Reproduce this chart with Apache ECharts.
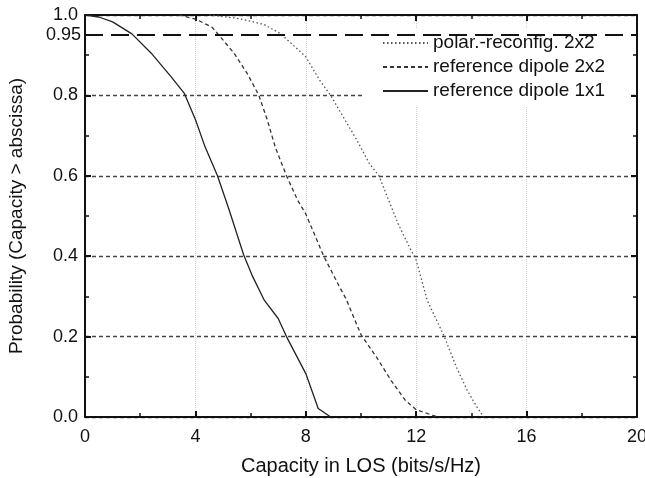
<!DOCTYPE html>
<html>
<head>
<meta charset="utf-8">
<script src="https://cdn.jsdelivr.net/npm/echarts@6/dist/echarts.min.js"></script>
<style>html,body{margin:0;padding:0;background:#fff}#c{width:645px;height:478px}</style>
</head>
<body>
<div id="c"></div>
<script>
var seriesNames = ['polar.-reconfig. 2x2', 'reference dipole 2x2', 'reference dipole 1x1'];

var polarX = [4.5, 5.5, 6.1, 6.5, 7.1, 8.0, 8.5, 8.9, 9.35, 9.85, 10.3, 10.65, 11.05, 11.35, 11.7, 12.0, 12.2, 12.4, 13.0, 13.45, 13.85, 14.2, 14.45];
var polarP = [1.0, 0.992, 0.983, 0.976, 0.953, 0.896, 0.838, 0.80, 0.747, 0.689, 0.631, 0.60, 0.531, 0.48, 0.43, 0.39, 0.34, 0.29, 0.203, 0.125, 0.066, 0.025, 0.0];

var dip22X = [3.4, 4.0, 4.6, 4.85, 5.4, 5.9, 6.3, 6.6, 6.9, 7.3, 7.7, 8.0, 8.65, 9.25, 9.45, 10.0, 10.55, 11.1, 11.6, 12.0, 12.6, 12.8];
var dip22P = [1.0, 0.99, 0.97, 0.95, 0.905, 0.852, 0.80, 0.74, 0.67, 0.60, 0.54, 0.505, 0.40, 0.32, 0.295, 0.205, 0.15, 0.09, 0.042, 0.018, 0.004, 0.0];

var dip11X = [0, 0.5, 1.0, 1.7, 2.4, 3.1, 3.6, 4.0, 4.35, 4.8, 5.2, 5.75, 6.05, 6.5, 7.0, 7.3, 8.0, 8.45, 8.9];
var dip11P = [1.0, 0.995, 0.983, 0.953, 0.905, 0.848, 0.805, 0.74, 0.672, 0.60, 0.52, 0.403, 0.353, 0.29, 0.245, 0.20, 0.108, 0.021, 0.0];

var thresholdP = 0.95;
var thresholdLabel = '0.95';

function pairs(xs, ys) { return xs.map(function (x, i) { return [x, ys[i]]; }); }

var FONT = 'Liberation Sans, Arial, sans-serif';
var chart = echarts.init(document.getElementById('c'), null, {renderer: 'canvas'});

var axisLine = {show: true, onZero: false, lineStyle: {color: '#111', width: 2}};
var xCommon = {
  type: 'value', min: 0, max: 20, interval: 4,
  axisLine: axisLine,
  axisTick: {show: true, inside: true, length: 6, lineStyle: {color: '#111', width: 2}},
  minorTick: {show: true, splitNumber: 2, length: 4, lineStyle: {color: '#111', width: 1.5}}
};
var yCommon = {
  type: 'value', min: 0, max: 1, interval: 0.2,
  axisLine: axisLine,
  axisTick: {show: true, inside: true, length: 6, lineStyle: {color: '#111', width: 2}},
  minorTick: {show: true, splitNumber: 2, length: 4, lineStyle: {color: '#111', width: 1.5}}
};

var option = {
  backgroundColor: '#fff',
  animation: false,
  grid: {left: 85, right: 8, top: 15, bottom: 61, containLabel: false, outerBoundsMode: 'none'},
  legend: {
    orient: 'vertical',
    left: 365, top: 28,
    padding: [4, 24, 4, 17],
    backgroundColor: '#fff',
    itemWidth: 45, itemHeight: 14, itemGap: 2,
    itemStyle: {opacity: 0},
    data: seriesNames,
    textStyle: {color: '#111', fontSize: 19, fontFamily: FONT, lineHeight: 22}
  },
  xAxis: [
    Object.assign({}, xCommon, {
      position: 'bottom',
      name: 'Capacity in LOS (bits/s/Hz)', nameLocation: 'middle', nameGap: 39,
      nameTextStyle: {color: '#111', fontSize: 20, fontFamily: FONT},
      axisLabel: {color: '#111', fontSize: 18, fontFamily: FONT, margin: 11},
      splitLine: {show: true, lineStyle: {color: '#cfcfcf', width: 1, type: [1, 1]}}
    }),
    Object.assign({}, xCommon, {
      position: 'top', axisLabel: {show: false}, splitLine: {show: false}
    })
  ],
  yAxis: [
    Object.assign({}, yCommon, {
      position: 'left',
      name: 'Probability (Capacity > abscissa)', nameLocation: 'middle', nameGap: 59,
      nameTextStyle: {color: '#111', fontSize: 19, fontFamily: FONT},
      axisLabel: {color: '#111', fontSize: 18, fontFamily: FONT, margin: 7,
        formatter: function (v) { return v.toFixed(1); }},
      splitLine: {show: true, lineStyle: {color: '#444', width: 1.3, type: [4, 3]}}
    }),
    Object.assign({}, yCommon, {
      position: 'right', axisLabel: {show: false}, splitLine: {show: false}
    })
  ],
  series: [
    {
      name: seriesNames[0], type: 'line', symbol: 'none', smooth: false,
      data: pairs(polarX, polarP),
      lineStyle: {color: '#555', width: 1.3, type: [1.5, 2.5]},
      itemStyle: {color: '#555'}, z: 3
    },
    {
      name: seriesNames[1], type: 'line', symbol: 'none', smooth: false,
      data: pairs(dip22X, dip22P),
      lineStyle: {color: '#333', width: 1.3, type: [4, 3]},
      itemStyle: {color: '#333'}, z: 3
    },
    {
      name: seriesNames[2], type: 'line', symbol: 'none', smooth: false,
      data: pairs(dip11X, dip11P),
      lineStyle: {color: '#222', width: 1.3, type: 'solid'},
      itemStyle: {color: '#222'}, z: 3,
      markLine: {
        silent: true, symbol: 'none',
        lineStyle: {color: '#111', width: 2, type: [18, 8]},
        label: {show: true, position: 'start', formatter: thresholdLabel, color: '#111',
          fontSize: 18, fontFamily: FONT, distance: 4},
        data: [[{coord: [0, thresholdP]}, {coord: [20, thresholdP]}]]
      }
    }
  ]
};
chart.setOption(option);
</script>
</body>
</html>
